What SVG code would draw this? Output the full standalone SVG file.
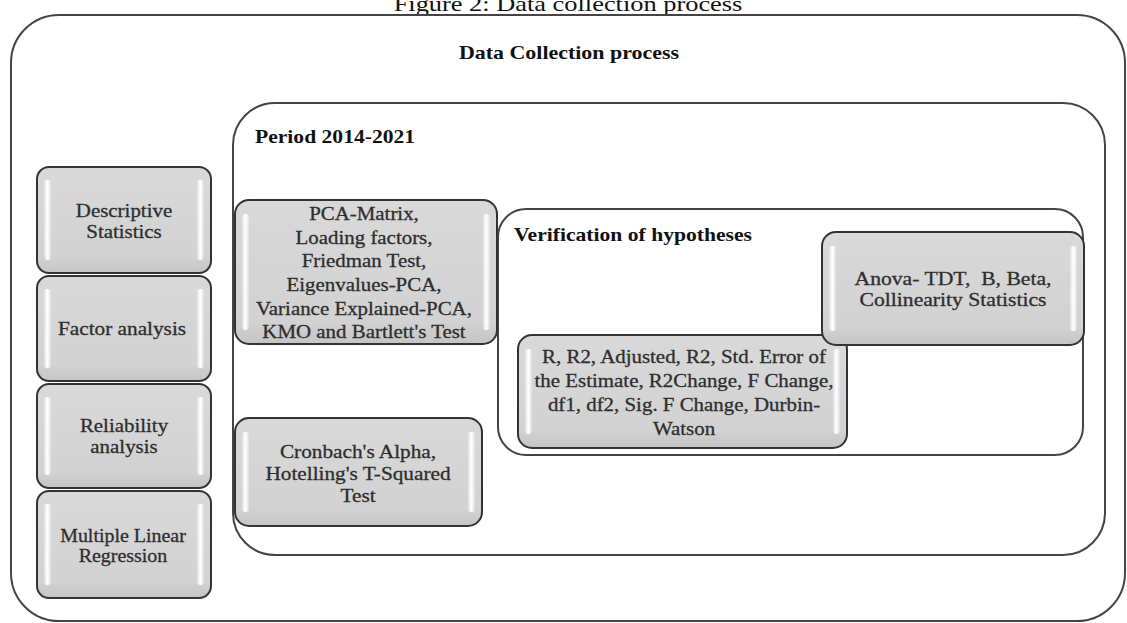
<svg xmlns="http://www.w3.org/2000/svg" width="1127" height="623" viewBox="0 0 1127 623">
<defs>
<linearGradient id="hlL" x1="0" y1="0" x2="1" y2="0">
<stop offset="0" stop-color="#ffffff" stop-opacity="0.3"/>
<stop offset="0.5" stop-color="#ffffff" stop-opacity="1"/>
<stop offset="1" stop-color="#ffffff" stop-opacity="0.2"/>
</linearGradient>
<linearGradient id="fillG" x1="0" y1="0" x2="0" y2="1">
<stop offset="0" stop-color="#d9d9d9"/>
<stop offset="0.85" stop-color="#d2d2d2"/>
<stop offset="1" stop-color="#c4c4c4"/>
</linearGradient>
</defs>
<style>
.frame{fill:#ffffff;stroke:#444444;stroke-width:2}
.box{fill:url(#fillG);stroke:#333333;stroke-width:2}
.hl{fill:url(#hlL)}
.t{font-family:"Liberation Serif","Times New Roman",serif;font-size:19px;fill:#2e2e2e;stroke:#2e2e2e;stroke-width:0.3;text-anchor:middle;white-space:pre}
.h{font-family:"Liberation Serif","Times New Roman",serif;font-size:18px;font-weight:bold;fill:#111111}
.cap{font-family:"Liberation Serif","Times New Roman",serif;font-size:22px;fill:#111111;text-anchor:middle}
</style>

<text class="cap" transform="translate(568,11) scale(1.2,1)">Figure 2: Data collection process</text>

<g id="outer">
<rect class="frame" x="11" y="15" width="1114" height="606" rx="48" ry="48"/>
<text class="h" text-anchor="middle" transform="translate(569,59) scale(1.22,1)">Data Collection process</text>
</g>

<g id="period">
<rect class="frame" x="233" y="103" width="872" height="452" rx="42" ry="42"/>
<text class="h" transform="translate(255,143) scale(1.2,1)">Period 2014-2021</text>
</g>

<g id="verification">
<rect class="frame" x="498" y="209" width="585" height="246" rx="28" ry="28"/>
<text class="h" transform="translate(514,241) scale(1.2,1)">Verification of hypotheses</text>
</g>

<g id="descriptive">
<rect class="box" x="37" y="167" width="174" height="106" rx="12" ry="12"/>
<rect class="hl" x="44" y="180" width="7" height="80" rx="3"/>
<rect class="hl" x="197" y="180" width="7" height="80" rx="3"/>
<text class="t" transform="translate(124,217) scale(1.1,1)">Descriptive</text>
<text class="t" transform="translate(124,238) scale(1.1,1)">Statistics</text>
</g>

<g id="factor">
<rect class="box" x="37" y="276" width="174" height="105" rx="12" ry="12"/>
<rect class="hl" x="44" y="289" width="7" height="79" rx="3"/>
<rect class="hl" x="197" y="289" width="7" height="79" rx="3"/>
<text class="t" transform="translate(122,335) scale(1.12,1)">Factor analysis</text>
</g>

<g id="reliability">
<rect class="box" x="37" y="384" width="174" height="104" rx="12" ry="12"/>
<rect class="hl" x="44" y="397" width="7" height="78" rx="3"/>
<rect class="hl" x="197" y="397" width="7" height="78" rx="3"/>
<text class="t" transform="translate(124,432) scale(1.1,1)">Reliability</text>
<text class="t" transform="translate(124,453) scale(1.1,1)">analysis</text>
</g>

<g id="mlr">
<rect class="box" x="37" y="491" width="174" height="107" rx="12" ry="12"/>
<rect class="hl" x="44" y="504" width="7" height="81" rx="3"/>
<rect class="hl" x="197" y="504" width="7" height="81" rx="3"/>
<text class="t" transform="translate(123,542) scale(1.05,1)">Multiple Linear</text>
<text class="t" transform="translate(123,562) scale(1.05,1)">Regression</text>
</g>

<g id="pca">
<rect class="box" x="235" y="200" width="262" height="144" rx="14" ry="14"/>
<rect class="hl" x="242" y="214" width="7" height="116" rx="3"/>
<rect class="hl" x="483" y="214" width="7" height="116" rx="3"/>
<text class="t" transform="translate(364,220) scale(1.1,1)">PCA-Matrix,</text>
<text class="t" transform="translate(364,244) scale(1.1,1)">Loading factors,</text>
<text class="t" transform="translate(364,267) scale(1.1,1)">Friedman Test,</text>
<text class="t" transform="translate(364,291) scale(1.1,1)">Eigenvalues-PCA,</text>
<text class="t" transform="translate(364,315) scale(1.1,1)">Variance Explained-PCA,</text>
<text class="t" transform="translate(364,338) scale(1.1,1)">KMO and Bartlett's Test</text>
</g>

<g id="cronbach">
<rect class="box" x="235" y="418" width="247" height="108" rx="14" ry="14"/>
<rect class="hl" x="242" y="432" width="7" height="80" rx="3"/>
<rect class="hl" x="468" y="432" width="7" height="80" rx="3"/>
<text class="t" transform="translate(358,458) scale(1.12,1)">Cronbach's Alpha,</text>
<text class="t" transform="translate(358,480) scale(1.12,1)">Hotelling's T-Squared</text>
<text class="t" transform="translate(358,502) scale(1.12,1)">Test</text>
</g>

<g id="rbox">
<rect class="box" x="518" y="335" width="329" height="113" rx="14" ry="14"/>
<rect class="hl" x="525" y="349" width="7" height="85" rx="3"/>
<rect class="hl" x="833" y="349" width="7" height="85" rx="3"/>
<text class="t" transform="translate(684,363) scale(1.1,1)">R, R2, Adjusted, R2, Std. Error of</text>
<text class="t" transform="translate(684,387) scale(1.1,1)">the Estimate, R2Change, F Change,</text>
<text class="t" transform="translate(684,411) scale(1.1,1)">df1, df2, Sig. F Change, Durbin-</text>
<text class="t" transform="translate(684,435) scale(1.1,1)">Watson</text>
</g>

<g id="anova">
<rect class="box" x="822" y="232" width="262" height="113" rx="14" ry="14"/>
<rect class="hl" x="829" y="246" width="7" height="85" rx="3"/>
<rect class="hl" x="1070" y="246" width="7" height="85" rx="3"/>
<text class="t" transform="translate(953,285) scale(1.14,1)">Anova- TDT,  B, Beta,</text>
<text class="t" transform="translate(953,306) scale(1.14,1)">Collinearity Statistics</text>
</g>

<g id="connectors"></g>
</svg>
